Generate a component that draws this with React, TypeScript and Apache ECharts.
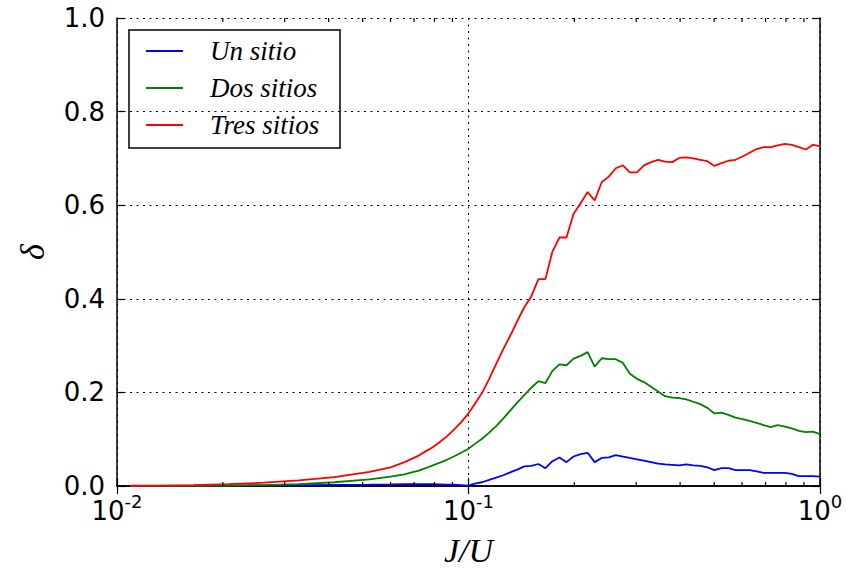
import React, { useEffect, useRef } from "react";
import * as echarts from "echarts";

// J/U sample points (log-spaced grid)
const jOverU = [
  0.0109, 0.0131, 0.0165, 0.0208, 0.0262, 0.0329, 0.0415, 0.0523, 0.06,
  0.0658, 0.0689, 0.0722, 0.0755, 0.0791, 0.0829, 0.0868, 0.0908, 0.0952, 0.0997,
  0.1043, 0.1093, 0.1145, 0.1199, 0.1255, 0.1314, 0.1376, 0.1441, 0.1509, 0.1581,
  0.1655, 0.1733, 0.1815, 0.19, 0.199, 0.2084, 0.2182, 0.2285, 0.2393, 0.2507,
  0.2624, 0.2749, 0.2878, 0.3014, 0.3157, 0.3306, 0.3462, 0.3626, 0.3797, 0.3976,
  0.4163, 0.436, 0.4566, 0.4781, 0.5007, 0.5243, 0.549, 0.5749, 0.6021, 0.6305,
  0.6603, 0.6914, 0.724, 0.7583, 0.794, 0.8316, 0.8708, 0.9119, 0.9549, 1.0,
];

const unSitio = [
  0, 0.0002, 0.0005, 0.001, 0.0015, 0.002, 0.0025, 0.003, 0.0035,
  0.004, 0.004, 0.004, 0.004, 0.004, 0.0035, 0.003, 0.003, 0.002, 0.001,
  0.005, 0.008, 0.013, 0.018, 0.023, 0.029, 0.035, 0.042, 0.043, 0.047,
  0.038, 0.053, 0.061, 0.051, 0.063, 0.068, 0.071, 0.051, 0.06, 0.061,
  0.066, 0.063, 0.06, 0.057, 0.054, 0.051, 0.048, 0.046, 0.045, 0.044,
  0.046, 0.044, 0.043, 0.04, 0.034, 0.038, 0.038, 0.034, 0.034, 0.034,
  0.031, 0.028, 0.028, 0.028, 0.028, 0.026, 0.021, 0.021, 0.021, 0.02,
];

const dosSitios = [
  0.0002, 0.0003, 0.0005, 0.001, 0.002, 0.004, 0.008, 0.014, 0.02,
  0.025, 0.029, 0.033, 0.038, 0.044, 0.05, 0.056, 0.063, 0.071, 0.079,
  0.09, 0.101, 0.114, 0.128, 0.144, 0.161, 0.178, 0.194, 0.21, 0.224,
  0.22, 0.246, 0.26, 0.258, 0.272, 0.278, 0.286, 0.255, 0.273, 0.271,
  0.271, 0.263, 0.24, 0.229, 0.222, 0.212, 0.202, 0.192, 0.189, 0.188,
  0.185, 0.18, 0.175, 0.167, 0.155, 0.157, 0.152, 0.146, 0.143, 0.139,
  0.135, 0.13, 0.126, 0.13, 0.127, 0.123, 0.118, 0.115, 0.116, 0.111,
];

const tresSitios = [
  0.0005, 0.001, 0.002, 0.004, 0.007, 0.012, 0.019, 0.03, 0.04,
  0.051, 0.058, 0.065, 0.074, 0.083, 0.094, 0.106, 0.12, 0.136, 0.154,
  0.176, 0.199, 0.229, 0.261, 0.292, 0.321, 0.352, 0.382, 0.405, 0.442,
  0.442, 0.501, 0.531, 0.531, 0.581, 0.604, 0.628, 0.61, 0.649, 0.661,
  0.679, 0.685, 0.67, 0.67, 0.685, 0.692, 0.697, 0.693, 0.692, 0.701,
  0.702, 0.7, 0.697, 0.694, 0.684, 0.69, 0.695, 0.697, 0.704, 0.712,
  0.72, 0.724, 0.724, 0.728, 0.731, 0.729, 0.724, 0.719, 0.729, 0.726,
];

const seriesNames = ["Un sitio", "Dos sitios", "Tres sitios"];
const seriesColors = ["#0000ff", "#008000", "#ff0000"];

// minor ticks of the log axis (2..9 per decade)
const minorTicks = [
  0.02, 0.03, 0.04, 0.05, 0.06, 0.07, 0.08, 0.09,
  0.2, 0.3, 0.4, 0.5, 0.6, 0.7, 0.8, 0.9,
];

const TICK_FONT = '"DejaVu Sans", sans-serif';
const MATH_FONT = '"Liberation Serif", "DejaVu Serif", serif';

const GRID = { left: 117, right: 26, top: 18, bottom: 84 };

function buildOption() {
  const values = [unSitio, dosSitios, tresSitios];
  const lineSeries = values.map((ys, s) => ({
    name: seriesNames[s],
    type: "line",
    xAxisIndex: 0,
    yAxisIndex: 0,
    data: jOverU.map((x, i) => [x, ys[i]]),
    showSymbol: false,
    symbol: "none",
    lineStyle: { color: seriesColors[s], width: 1.8 },
    itemStyle: { color: seriesColors[s] },
    z: 3 + s,
  }));

  const minorTickSeries = {
    type: "custom",
    xAxisIndex: 0,
    yAxisIndex: 0,
    silent: true,
    clip: false,
    z: 10,
    data: minorTicks.map((v) => [v, 0]),
    renderItem: (_params: any, api: any) => {
      const p0 = api.coord([api.value(0), 0]);
      const p1 = api.coord([api.value(0), 1]);
      const style = { stroke: "#000", lineWidth: 1.2 };
      return {
        type: "group",
        children: [
          { type: "line", shape: { x1: p0[0], y1: p0[1], x2: p0[0], y2: p0[1] - 4 }, style },
          { type: "line", shape: { x1: p1[0], y1: p1[1], x2: p1[0], y2: p1[1] + 4 }, style },
        ],
      };
    },
  };

  const axisLine = { show: true, lineStyle: { color: "#000", width: 1.5 } };
  const majorTick = { show: true, inside: true, length: 8, lineStyle: { color: "#000", width: 1.2 } };
  const dotted = { show: true, lineStyle: { color: "#000", width: 1, type: [2, 4.5] } };

  const logAxisBase = {
    type: "log",
    logBase: 10,
    min: 0.01,
    max: 1,
    axisLine,
    axisTick: majorTick,
    minorTick: { show: false },
  };

  const legendX = 129;
  const legendY = 30;
  const rowGap = 37;
  const legendChildren: any[] = [
    {
      type: "rect",
      shape: { x: legendX, y: legendY, width: 211, height: 118 },
      style: { fill: "#fff", stroke: "#000", lineWidth: 1.5 },
    },
  ];
  seriesNames.forEach((name, i) => {
    const cy = legendY + 21 + i * rowGap;
    legendChildren.push({
      type: "line",
      shape: { x1: 146, y1: cy, x2: 183, y2: cy },
      style: { stroke: seriesColors[i], lineWidth: 1.8 },
    });
    legendChildren.push({
      type: "text",
      x: 210,
      y: cy,
      style: {
        text: name,
        font: `italic 27px ${MATH_FONT}`,
        fill: "#000",
        verticalAlign: "middle",
        align: "left",
      },
    });
  });

  return {
    animation: false,
    backgroundColor: "#fff",
    grid: { ...GRID, containLabel: false, outerBoundsMode: "none" },
    xAxis: [
      {
        ...logAxisBase,
        position: "bottom",
        name: "J/U",
        nameLocation: "middle",
        nameGap: 46,
        nameTextStyle: { fontFamily: MATH_FONT, fontStyle: "italic", fontSize: 34, lineHeight: 36, color: "#000" },
        splitLine: dotted,
        axisLabel: {
          margin: 10,
          formatter: (v: number) => `{b|10}{s|${Math.round(Math.log10(v))}}`,
          rich: {
            b: { fontFamily: TICK_FONT, fontSize: 26, color: "#000", lineHeight: 28, verticalAlign: "bottom" },
            s: { fontFamily: TICK_FONT, fontSize: 18, color: "#000", lineHeight: 18, verticalAlign: "bottom", padding: [0, 0, 14, 0] },
          },
        },
      },
      {
        ...logAxisBase,
        position: "top",
        axisLabel: { show: false },
        splitLine: { show: false },
      },
    ],
    yAxis: [
      {
        type: "value",
        min: 0,
        max: 1,
        interval: 0.2,
        position: "left",
        axisLine,
        axisTick: majorTick,
        splitLine: dotted,
        name: "δ",
        nameLocation: "middle",
        nameRotate: 90,
        nameGap: 68,
        nameTextStyle: { fontFamily: MATH_FONT, fontStyle: "italic", fontSize: 34, color: "#000" },
        axisLabel: {
          margin: 12,
          fontFamily: TICK_FONT,
          fontSize: 26,
          color: "#000",
          formatter: (v: number) => v.toFixed(1),
        },
      },
      {
        type: "value",
        min: 0,
        max: 1,
        interval: 0.2,
        position: "right",
        axisLine,
        axisTick: majorTick,
        splitLine: { show: false },
        axisLabel: { show: false },
      },
    ],
    series: [...lineSeries, minorTickSeries],
    graphic: [{ type: "group", z: 100, children: legendChildren }],
  };
}

export default function App() {
  const ref = useRef<HTMLDivElement>(null);

  useEffect(() => {
    if (!ref.current) return;
    const chart = echarts.init(ref.current, null, { renderer: "svg" });
    chart.setOption(buildOption() as any);
    return () => {
      chart.dispose();
    };
  }, []);

  return (
    <div
      ref={ref}
      style={{ position: "fixed", left: 0, top: 0, width: 846, height: 570, background: "#fff" }}
    />
  );
}
